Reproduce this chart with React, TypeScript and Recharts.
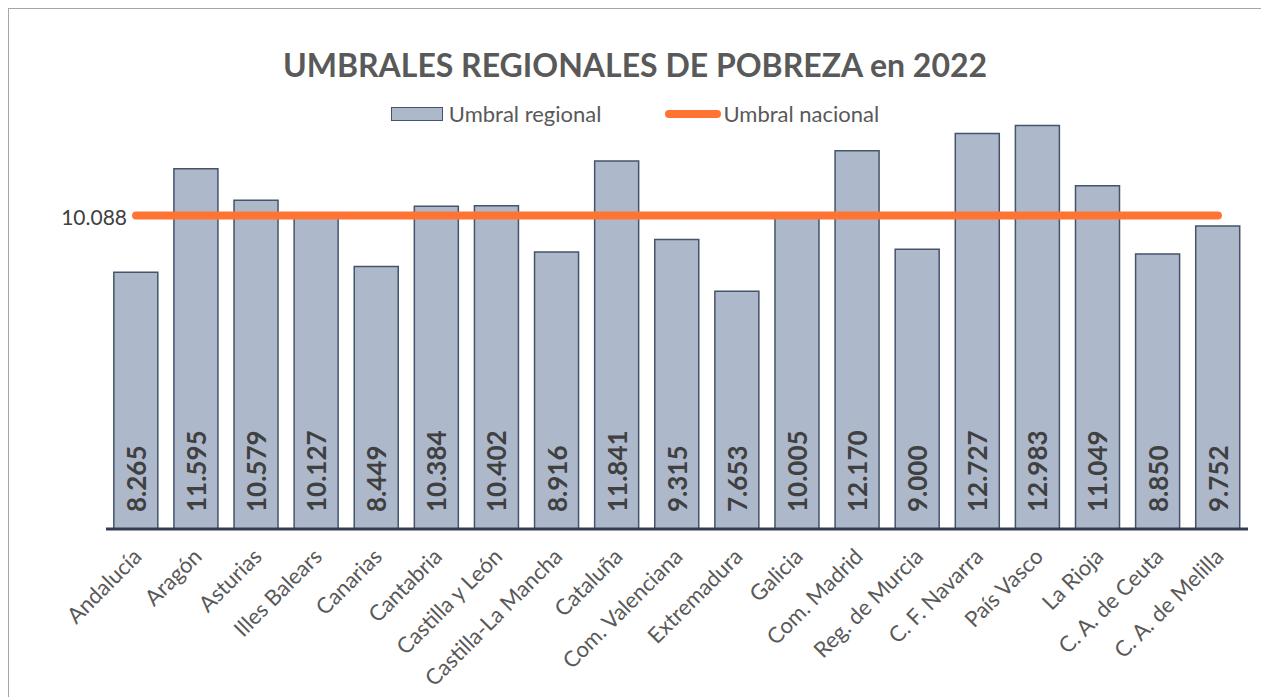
import { Bar, ComposedChart, LabelList, Legend, Line, XAxis, YAxis } from "recharts"

// Umbral de pobreza por comunidad autónoma (euros), 2022
const regiones = [
  "Andalucía",
  "Aragón",
  "Asturias",
  "Illes Balears",
  "Canarias",
  "Cantabria",
  "Castilla y León",
  "Castilla-La Mancha",
  "Cataluña",
  "Com. Valenciana",
  "Extremadura",
  "Galicia",
  "Com. Madrid",
  "Reg. de Murcia",
  "C. F. Navarra",
  "País Vasco",
  "La Rioja",
  "C. A. de Ceuta",
  "C. A. de Melilla",
]
const umbralRegional = [
  8265, 11595, 10579, 10127, 8449, 10384, 10402, 8916, 11841, 9315, 7653, 10005, 12170, 9000, 12727, 12983,
  11049, 8850, 9752,
]
const umbralNacional = 10088

const FONT = "Lato, 'Open Sans', sans-serif"

const fmt = (n: number) => String(Math.round(n)).replace(/\B(?=(\d{3})+(?!\d))/g, ".")

const data = regiones.map((r, i) => ({
  region: r,
  regional: umbralRegional[i],
  nacional: umbralNacional,
}))

// value written upright inside the bar, near the bottom
function BarValue(props: any) {
  const { x, y, width, height, value } = props
  const cx = x + width / 2
  const by = y + height - 17
  return (
    <text
      x={cx}
      y={by}
      transform={`rotate(-90 ${cx} ${by})`}
      textAnchor="start"
      dominantBaseline="central"
      fontFamily={FONT}
      fontWeight={700}
      fontSize={26}
      fill="#404040"
    >
      {fmt(value)}
    </text>
  )
}

function LineValue(props: any) {
  const { x, y, index, value } = props
  if (index !== 0) return null
  return (
    <text x={x - 9} y={y + 1} textAnchor="end" dominantBaseline="central" fontFamily={FONT} fontSize={21} fill="#404040">
      {fmt(value)}
    </text>
  )
}

function RegionTick(props: any) {
  const { x, y, payload } = props
  const tx = x + 1
  const ty = y + 15
  return (
    <text
      x={tx}
      y={ty}
      transform={`rotate(-45 ${tx} ${ty})`}
      textAnchor="end"
      dominantBaseline="central"
      fontFamily={FONT}
      fontSize={22}
      fill="#595959"
    >
      {payload.value}
    </text>
  )
}

function ChartLegend() {
  return (
    <div style={{ display: "flex", justifyContent: "center", fontFamily: FONT, fontSize: 22, color: "#595959" }}>
      <div style={{ display: "flex", alignItems: "center", marginRight: 64 }}>
        <span
          style={{
            display: "inline-block",
            width: 50,
            height: 12,
            background: "#adb9ca",
            border: "1.5px solid #44546a",
            marginRight: 6,
          }}
        />
        Umbral regional
      </div>
      <div style={{ display: "flex", alignItems: "center" }}>
        <span
          style={{
            display: "inline-block",
            width: 56,
            height: 8,
            borderRadius: 4,
            background: "#ff7433",
            marginRight: 2,
          }}
        />
        Umbral nacional
      </div>
    </div>
  )
}

export default function App() {
  return (
    <div
      style={{
        position: "relative",
        width: 1252,
        height: 700,
        borderTop: "1px solid #a6a6a6",
        borderLeft: "1px solid #a6a6a6",
        borderRight: "1px solid #a6a6a6",
        background: "#fff",
      }}
    >
      <div
        style={{
          position: "absolute",
          top: 36,
          left: 0,
          width: "100%",
          textAlign: "center",
          fontFamily: FONT,
          fontWeight: 700,
          fontSize: 32,
          color: "#595959",
        }}
      >
        UMBRALES REGIONALES DE POBREZA en 2022
      </div>
      <ComposedChart
        width={1252}
        height={688}
        data={data}
        margin={{ top: 85, right: 13, bottom: 0, left: 97 }}
        barCategoryGap="13%"
      >
        <XAxis
          dataKey="region"
          interval={0}
          height={168}
          tick={<RegionTick />}
          tickLine={false}
          axisLine={{ stroke: "#333f50", strokeWidth: 3 }}
        />
        <YAxis hide domain={[0, 14000]} />
        <Legend
          verticalAlign="middle"
          align="center"
          wrapperStyle={{ top: 91, left: 0, width: 1252 }}
          content={<ChartLegend />}
        />
        <Bar
          dataKey="regional"
          name="Umbral regional"
          fill="#adb9ca"
          stroke="#44546a"
          strokeWidth={1.5}
          isAnimationActive={false}
        >
          <LabelList dataKey="regional" content={<BarValue />} />
        </Bar>
        <Line
          dataKey="nacional"
          name="Umbral nacional"
          stroke="#ff7433"
          strokeWidth={8}
          strokeLinecap="round"
          dot={false}
          activeDot={false}
          isAnimationActive={false}
        >
          <LabelList dataKey="nacional" content={<LineValue />} />
        </Line>
      </ComposedChart>
    </div>
  )
}
